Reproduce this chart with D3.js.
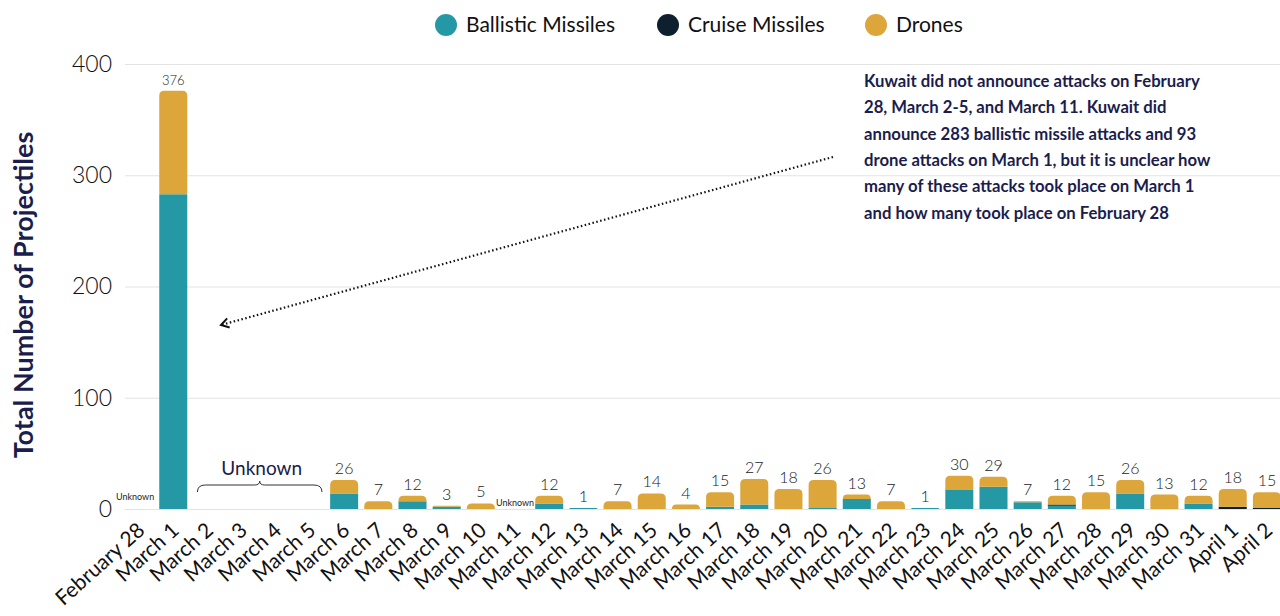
<!DOCTYPE html>
<html>
<head>
<meta charset="utf-8">
<script src="https://cdn.jsdelivr.net/npm/d3@7"></script>
<style>
  html, body { margin: 0; padding: 0; background: #fff; }
  svg { display: block; font-family: "Lato", "Noto Sans", sans-serif; }
</style>
</head>
<body>
<svg id="chart" width="1280" height="616"></svg>
<script>
// Daily projectiles launched at Kuwait, by type
const days = ["February 28","March 1","March 2","March 3","March 4","March 5","March 6","March 7",
  "March 8","March 9","March 10","March 11","March 12","March 13","March 14","March 15","March 16",
  "March 17","March 18","March 19","March 20","March 21","March 22","March 23","March 24","March 25",
  "March 26","March 27","March 28","March 29","March 30","March 31","April 1","April 2"];
const ballistic = [0,283,0,0,0,0,14,0,7,2,0,0,5,1,0,0,0,2,4,0,1,9,0,1,17,20,6,3,0,14,0,5,0,0];
const cruise    = [0,0,0,0,0,0,0,0,0,0,0,0,0,0,0,0,0,0,0,0,0,0,0,0,0,0,0,1,0,0,0,0,2,1];
const drones    = [0,93,0,0,0,0,12,7,5,1,5,0,7,0,7,14,4,13,23,18,25,4,7,0,13,9,1,8,15,12,13,7,16,14];
const yTicks = [0,100,200,300,400];
const seriesNames = ["Ballistic Missiles","Cruise Missiles","Drones"];
const seriesColors = ["#2598a5","#0e1f2f","#dca63b"];
const noteLines = [
  "Kuwait did not announce attacks on February",
  "28, March 2-5, and March 11. Kuwait did",
  "announce 283 ballistic missile attacks and 93",
  "drone attacks on March 1, but it is unclear how",
  "many of these attacks took place on March 1",
  "and how many took place on February 28"
];

const svg = d3.select("#chart");
const x = d3.scaleBand().domain(days).range([122, 1284]).paddingInner(0.18).paddingOuter(0.09);
const y = d3.scaleLinear().domain([0, 400]).range([509, 64]);

const rows = days.map((d, i) => ({ day: d, b: ballistic[i], c: cruise[i], d: drones[i] }));
const stack = d3.stack().keys(["b","c","d"])(rows);

// gridlines + y tick labels
const yAxis = d3.axisLeft(y).tickValues(yTicks).tickSize(-(1280 - 125)).tickFormat(d3.format("d"));
const ga = svg.append("g").attr("transform", "translate(125,0)").call(yAxis);
ga.select(".domain").remove();
ga.selectAll(".tick line").attr("stroke", "#e3e3e3").attr("stroke-width", 1);
ga.selectAll(".tick text").attr("x", -13).attr("font-size", 23).attr("fill", "#111")
  .attr("font-family", "Lato, sans-serif").attr("font-weight", 300);

// y-axis title
svg.append("text")
  .attr("transform", "translate(33,295) rotate(-90)")
  .attr("text-anchor", "middle")
  .attr("font-size", 27).attr("font-weight", 700).attr("fill", "#1b1d4d")
  .attr("font-family", "Lato, sans-serif")
  .text("Total Number of Projectiles");

// bar segments, top segment of each stack gets rounded corners
function topRounded(x0, y0, w, h, r) {
  r = Math.min(r, h, w / 2);
  return `M${x0},${y0 + h}V${y0 + r}Q${x0},${y0} ${x0 + r},${y0}H${x0 + w - r}Q${x0 + w},${y0} ${x0 + w},${y0 + r}V${y0 + h}Z`;
}
const bw = x.bandwidth();
const bars = svg.append("g");
rows.forEach((row, i) => {
  const vals = [row.b, row.c, row.d];
  let topIdx = -1;
  vals.forEach((v, k) => { if (v > 0) topIdx = k; });
  stack.forEach((layer, k) => {
    const seg = layer[i];
    if (seg[1] - seg[0] <= 0) return;
    const y0 = y(seg[1]), h = y(seg[0]) - y(seg[1]);
    bars.append("path")
      .attr("d", topRounded(x(row.day), y0, bw, h, k === topIdx ? 5 : 0))
      .attr("fill", seriesColors[k]);
  });
});

// totals above bars
const total = r => r.b + r.c + r.d;
svg.append("g").selectAll("text").data(rows.filter(r => total(r) > 0))
  .join("text")
  .attr("x", r => x(r.day) + bw / 2)
  .attr("y", r => y(total(r)) - 6)
  .attr("text-anchor", "middle")
  .attr("font-size", r => total(r) > 100 ? 13 : 16)
  .attr("font-weight", 300)
  .attr("fill", "#222")
  .text(r => total(r));

// small "Unknown" markers
svg.append("text").attr("x", x("February 28") + bw / 2 - 4).attr("y", 500)
  .attr("text-anchor", "middle").attr("font-size", 9).attr("fill", "#222").text("Unknown");
svg.append("text").attr("x", x("March 11") + bw / 2).attr("y", 506)
  .attr("text-anchor", "middle").attr("font-size", 9).attr("fill", "#222").text("Unknown");

// brace spanning March 2 – March 5
const bx0 = x("March 2") + 4, bx1 = x("March 5") + bw - 2, bm = (bx0 + bx1) / 2;
const byBase = 492, byTop = 485;
svg.append("path")
  .attr("d", `M${bx0},${byBase}Q${bx0},${byTop} ${bx0 + 8},${byTop}H${bm - 5}Q${bm},${byTop} ${bm},${byTop - 4}Q${bm},${byTop} ${bm + 5},${byTop}H${bx1 - 8}Q${bx1},${byTop} ${bx1},${byBase}`)
  .attr("fill", "none").attr("stroke", "#333").attr("stroke-width", 1);
svg.append("text").attr("x", bm + 2).attr("y", 475).attr("text-anchor", "middle")
  .attr("font-size", 19).attr("fill", "#1b1d4d").text("Unknown");

// x-axis labels
const gx = svg.append("g").attr("transform", "translate(0,509)")
  .call(d3.axisBottom(x).tickSize(0).tickPadding(0));
gx.select(".domain").remove();
gx.selectAll(".tick text")
  .attr("text-anchor", "end")
  .attr("font-size", 21).attr("fill", "#111")
  .attr("font-family", "Lato, sans-serif")
  .attr("dy", 0).attr("y", 0).attr("x", 0)
  .attr("transform", "translate(7,23) rotate(-42)");

// legend
const legend = svg.append("g");
const legX = [446, 668, 876];
seriesNames.forEach((name, k) => {
  legend.append("circle").attr("cx", legX[k]).attr("cy", 25).attr("r", 11).attr("fill", seriesColors[k]);
  legend.append("text").attr("x", legX[k] + 20).attr("y", 32).attr("font-size", 21)
    .attr("fill", "#111").text(name);
});

// explanatory note with dotted arrow pointing to the March 1 bar
svg.append("g").selectAll("text").data(noteLines).join("text")
  .attr("x", 864).attr("y", (d, i) => 87 + i * 26.3)
  .attr("font-size", 16.7).attr("font-weight", 700).attr("fill", "#1b1d4d")
  .attr("font-family", "Lato, sans-serif")
  .text(d => d);

const ax0 = 833, ay0 = 157, ax1 = 221, ay1 = 325;
svg.append("line").attr("x1", ax0).attr("y1", ay0).attr("x2", ax1).attr("y2", ay1)
  .attr("stroke", "#111").attr("stroke-width", 2.2).attr("stroke-dasharray", "1.5,2.5");
const ang = Math.atan2(ay0 - ay1, ax0 - ax1);
const hl = 9, ha = 0.55;
svg.append("path")
  .attr("d", `M${ax1 + hl * Math.cos(ang - ha)},${ay1 + hl * Math.sin(ang - ha)}L${ax1},${ay1}L${ax1 + hl * Math.cos(ang + ha)},${ay1 + hl * Math.sin(ang + ha)}`)
  .attr("fill", "none").attr("stroke", "#111").attr("stroke-width", 2);
</script>
</body>
</html>
